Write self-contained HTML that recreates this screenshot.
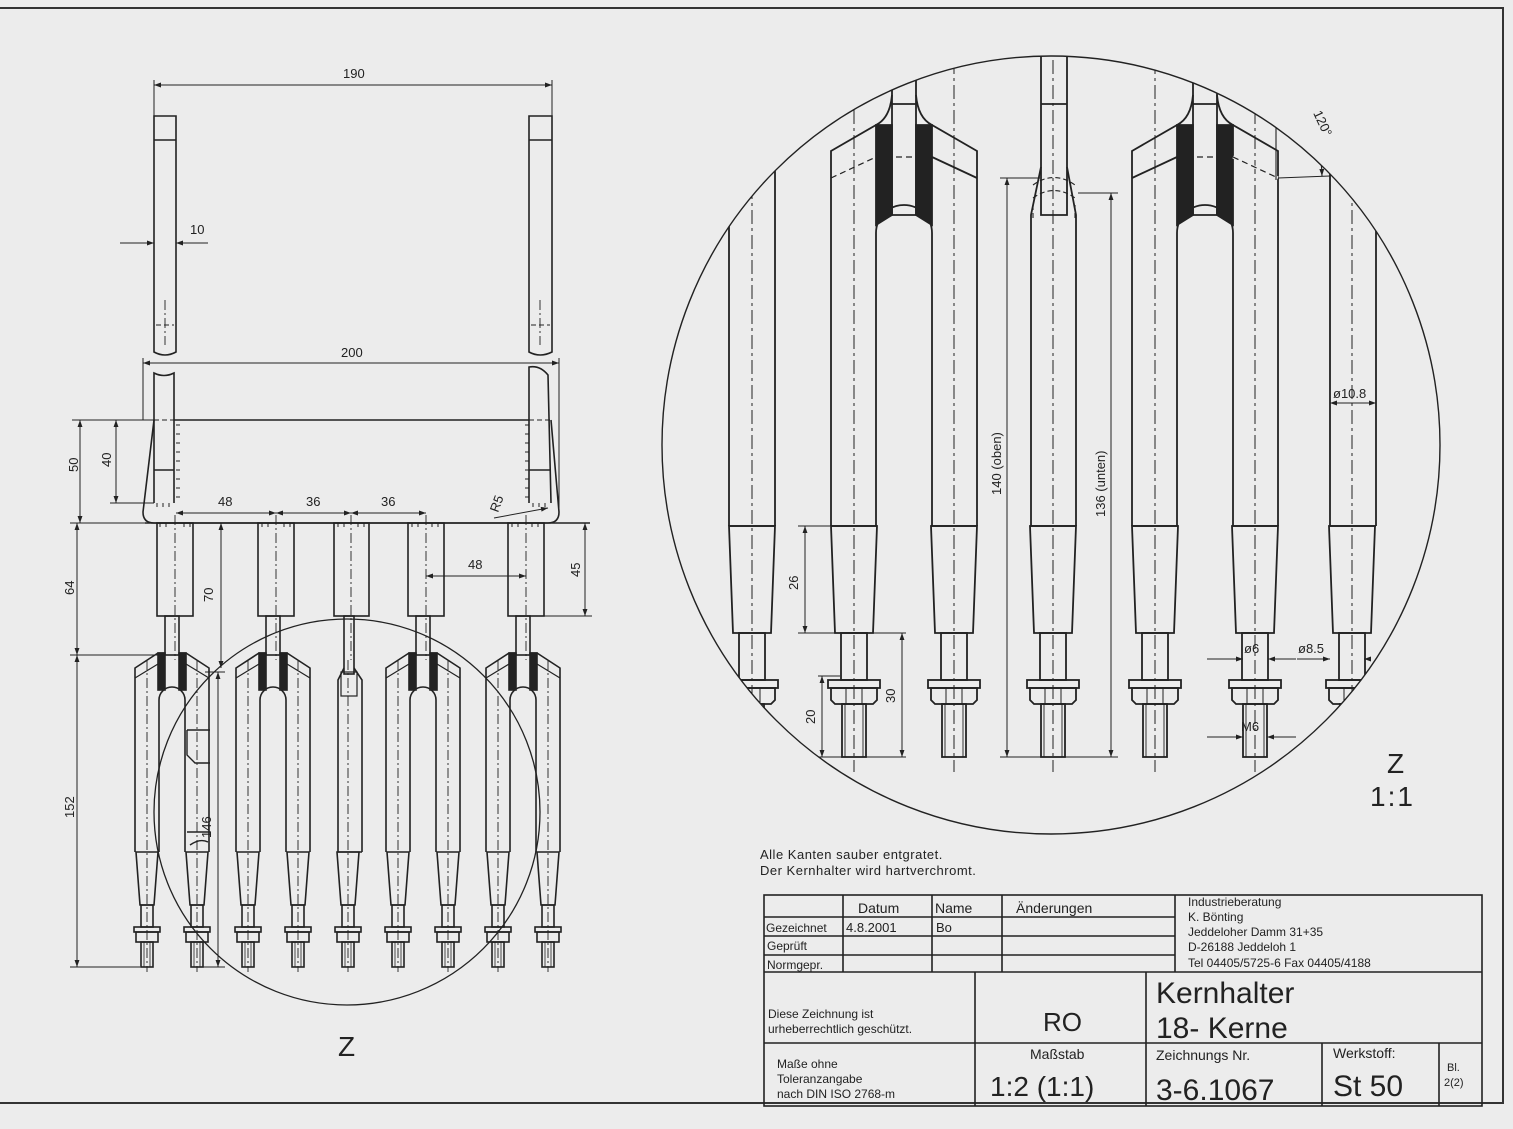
<!DOCTYPE html>
<html><head><meta charset="utf-8"><style>
html,body{margin:0;padding:0;background:#ececec}
svg{display:block}
text{font-family:"Liberation Sans",sans-serif;fill:#222}
</style></head><body>
<svg width="1513" height="1129" viewBox="0 0 1513 1129" xmlns="http://www.w3.org/2000/svg">
<defs>
<marker id="a" viewBox="0 0 10 10" refX="10" refY="5" markerWidth="9" markerHeight="7" orient="auto-start-reverse" markerUnits="userSpaceOnUse"><path d="M0,1.5 L10,5 L0,8.5z" fill="#222"/></marker>
<clipPath id="bc"><circle cx="1051" cy="445" r="389"/></clipPath>
<!-- small tine (left view), centered at 0 -->
<g id="st" fill="none" stroke="#222" stroke-width="1.6">
<path d="M-11,852 L11,852 L7,905 L-7,905 Z"/>
<rect x="-6" y="905" width="12" height="22"/>
<rect x="-13" y="927" width="26" height="5"/>
<rect x="-11" y="932" width="22" height="10"/>
<rect x="-6" y="942" width="12" height="25"/>
<line x1="-3" y1="942" x2="-3" y2="967" stroke-width="0.8"/><line x1="3" y1="942" x2="3" y2="967" stroke-width="0.8"/>
<line x1="0" y1="660" x2="0" y2="972" stroke-width="0.9" stroke-dasharray="10 3 2 3"/>
</g>
<!-- small fork, center 0 -->
<g id="sf" fill="none" stroke="#222" stroke-width="1.6">
<rect x="-7" y="616" width="14" height="39"/>
<path d="M-37,852 L-37,668 L-14,653 L-7,653 M37,852 L37,668 L14,653 L7,653"/>
<path d="M-37,678 L-14,664 M37,678 L14,664" stroke-width="1.2"/>
<path d="M-13,852 L-13,700 A13,13 0 0 1 13,700 L13,852"/>
<rect x="-14" y="653" width="7" height="37" fill="#222"/>
<rect x="7" y="653" width="7" height="37" fill="#222"/>
<use href="#st" x="-25"/><use href="#st" x="25"/>
</g>
<!-- big tine (detail), centered at 0 -->
<g id="bt" fill="none" stroke="#222" stroke-width="1.8">
<path d="M-23,526 L23,526 L19,633 L-19,633 Z"/>
<rect x="-13" y="633" width="26" height="47"/>
<rect x="-26" y="680" width="52" height="8"/>
<path d="M-23,688 L23,688 L23,700 L19,704 L-19,704 L-23,700 Z"/>
<line x1="-8" y1="688" x2="-8" y2="704" stroke-width="1"/><line x1="8" y1="688" x2="8" y2="704" stroke-width="1"/>
<rect x="-12" y="704" width="24" height="53"/>
<line x1="-9" y1="704" x2="-9" y2="757" stroke-width="0.9"/><line x1="9" y1="704" x2="9" y2="757" stroke-width="0.9"/>
<line x1="0" y1="60" x2="0" y2="772" stroke-width="1" stroke-dasharray="14 4 3 4"/>
</g>
<!-- big fork, center 0 -->
<g id="bf" fill="none" stroke="#222" stroke-width="1.8">
<path d="M-12,0 L-12,215 M12,0 L12,215 M-12,104 L12,104 M-12,215 L12,215"/>
<path d="M-73,526 L-73,151 L-28,125 Q-14,118 -12,95 M73,526 L73,151 L28,125 Q14,118 12,95"/>
<path d="M-28,526 L-28,233 A28,28 0 0 1 28,233 L28,526"/>
<path d="M-28,125 L-12,125 L-12,215 L-28,225 Z M28,125 L12,125 L12,215 L28,225 Z" fill="#222"/>
<line x1="-73" y1="178" x2="-28" y2="157" stroke-width="1.2" stroke-dasharray="6 4"/>
<line x1="28" y1="157" x2="73" y2="178" stroke-width="1.8"/>
<line x1="-28" y1="157" x2="28" y2="157" stroke-width="1.2" stroke-dasharray="6 4"/>
<path d="M-73,526 L-27,526 M27,526 L73,526"/>
<line x1="-50" y1="60" x2="-50" y2="772" stroke-width="1" stroke-dasharray="14 4 3 4"/>
<line x1="50" y1="60" x2="50" y2="772" stroke-width="1" stroke-dasharray="14 4 3 4"/>
<path d="M-73,526 L-73,526"/>
</g>
</defs>

<!-- frame -->
<path d="M-2,8 L1503,8 L1503,1103 L-2,1103" fill="none" stroke="#333" stroke-width="2"/>

<g fill="none" stroke="#222" stroke-width="1.6">
<!-- upper bars -->
<path d="M154,116 L176,116 L176,352 Q165,358 154,352 Z M154,140 L176,140"/>
<path d="M529,116 L552,116 L552,352 Q540,358 529,352 Z M529,140 L552,140"/>
<line x1="156" y1="325" x2="174" y2="325" stroke-dasharray="5 3" stroke-width="1"/>
<line x1="531" y1="325" x2="550" y2="325" stroke-dasharray="5 3" stroke-width="1"/>
<!-- lower bar segments -->
<path d="M154,503 L154,373 Q164,378 174,373 L174,503"/>
<path d="M529,503 L529,367 Q540,365 548,375 L551,503"/>
<line x1="174" y1="420" x2="529" y2="420"/>
<line x1="154" y1="420" x2="174" y2="420" stroke-dasharray="5 3" stroke-width="1"/>
<line x1="529" y1="420" x2="551" y2="420" stroke-dasharray="5 3" stroke-width="1"/>
<path d="M154,470 L174,470 M529,470 L551,470"/>
<path d="M154,420 L143,512 Q143,523 154,523 L548,523 Q559,523 559,512 L551,420"/>
<line x1="145" y1="523" x2="590" y2="523" stroke-width="1.4"/>
<!-- weld ticks -->
<path d="M176,425 h4 M176,434 h4 M176,443 h4 M176,452 h4 M176,461 h4 M176,470 h4 M176,479 h4 M176,488 h4 M176,497 h4 M525,425 h4 M525,434 h4 M525,443 h4 M525,452 h4 M525,461 h4 M525,470 h4 M525,479 h4 M525,488 h4 M525,497 h4" stroke-width="1"/>
<path d="M157,503 v4 M163,503 v4 M169,503 v4 M533,503 v4 M539,503 v4 M545,503 v4 M160,523 v4 M166,523 v4 M184,523 v4 M190,523 v4 M262,523 v4 M268,523 v4 M284,523 v4 M290,523 v4 M338,523 v4 M344,523 v4 M358,523 v4 M364,523 v4 M412,523 v4 M418,523 v4 M432,523 v4 M438,523 v4 M512,523 v4 M518,523 v4 M532,523 v4 M538,523 v4" stroke-width="1"/>
<!-- upper blocks -->
<rect x="157" y="523" width="36" height="93"/>
<rect x="258" y="523" width="36" height="93"/>
<rect x="334" y="523" width="35" height="93"/>
<rect x="408" y="523" width="36" height="93"/>
<rect x="508" y="523" width="36" height="93"/>
</g>
<g stroke="#222" stroke-width="0.9" stroke-dasharray="10 3 2 3">
<line x1="175" y1="515" x2="175" y2="660"/><line x1="276" y1="515" x2="276" y2="660"/><line x1="351" y1="515" x2="351" y2="660"/><line x1="426" y1="515" x2="426" y2="660"/><line x1="526" y1="515" x2="526" y2="660"/>
<line x1="165" y1="300" x2="165" y2="345"/><line x1="540" y1="300" x2="540" y2="345"/>
</g>
<!-- forks left -->
<use href="#sf" x="172"/><use href="#sf" x="273"/><use href="#sf" x="423"/><use href="#sf" x="523"/>
<!-- center pin left -->
<g fill="none" stroke="#222" stroke-width="1.6">
<rect x="344" y="616" width="10" height="58"/>
<path d="M338,852 L338,680 L344,668 M362,852 L362,680 L354,668"/>
<rect x="341" y="672" width="16" height="24" stroke-width="1.2"/>
<line x1="338" y1="852" x2="362" y2="852"/>
</g>
<use href="#st" x="348"/>
<!-- 146 break pin marks -->
<path d="M187,730 L210,730 M187,730 L187,755 L195,763 L210,763 M187,832 L210,832 M190,845 Q200,838 208,842" fill="none" stroke="#222" stroke-width="1.4"/>

<!-- small circle -->
<circle cx="347" cy="812" r="193" fill="none" stroke="#222" stroke-width="1.3"/>
<text x="338" y="1056" font-size="28">Z</text>

<!-- left dimensions -->
<g fill="none" stroke="#222" stroke-width="1">
<line x1="154" y1="80" x2="154" y2="116"/><line x1="552" y1="80" x2="552" y2="116"/>
<line x1="154" y1="85" x2="552" y2="85" marker-start="url(#a)" marker-end="url(#a)"/>
<line x1="120" y1="243" x2="154" y2="243" marker-end="url(#a)"/><line x1="208" y1="243" x2="176" y2="243" marker-end="url(#a)"/>
<line x1="143" y1="358" x2="143" y2="420"/><line x1="559" y1="358" x2="559" y2="512"/>
<line x1="143" y1="363" x2="559" y2="363" marker-start="url(#a)" marker-end="url(#a)"/>
<line x1="72" y1="420" x2="154" y2="420"/><line x1="110" y1="503" x2="154" y2="503"/>
<line x1="80" y1="420" x2="80" y2="523" marker-start="url(#a)" marker-end="url(#a)"/>
<line x1="116" y1="420" x2="116" y2="503" marker-start="url(#a)" marker-end="url(#a)"/>
<line x1="176" y1="513" x2="276" y2="513" marker-start="url(#a)" marker-end="url(#a)"/>
<line x1="276" y1="513" x2="351" y2="513" marker-start="url(#a)" marker-end="url(#a)"/>
<line x1="351" y1="513" x2="426" y2="513" marker-start="url(#a)" marker-end="url(#a)"/>
<line x1="426" y1="576" x2="526" y2="576" marker-start="url(#a)" marker-end="url(#a)"/>
<line x1="544" y1="616" x2="592" y2="616"/>
<line x1="585" y1="523" x2="585" y2="616" marker-start="url(#a)" marker-end="url(#a)"/>
<line x1="221" y1="523" x2="221" y2="668" marker-start="url(#a)" marker-end="url(#a)"/>
<line x1="70" y1="523" x2="155" y2="523"/>
<line x1="70" y1="655" x2="160" y2="655"/>
<line x1="77" y1="523" x2="77" y2="655" marker-start="url(#a)" marker-end="url(#a)"/>
<line x1="77" y1="655" x2="77" y2="967" marker-start="url(#a)" marker-end="url(#a)"/>
<line x1="70" y1="967" x2="140" y2="967"/>
<line x1="200" y1="967" x2="225" y2="967"/><line x1="205" y1="672" x2="225" y2="672"/>
<line x1="218" y1="672" x2="218" y2="967" marker-start="url(#a)" marker-end="url(#a)"/>
<line x1="494" y1="518" x2="548" y2="508" marker-end="url(#a)"/>
</g>
<g font-size="13">
<text x="343" y="78">190</text>
<text x="190" y="234">10</text>
<text x="341" y="357">200</text>
<text x="218" y="506">48</text><text x="306" y="506">36</text><text x="381" y="506">36</text>
<text x="468" y="569">48</text>
<text transform="translate(78,472) rotate(-90)">50</text>
<text transform="translate(111,467) rotate(-90)">40</text>
<text transform="translate(74,595) rotate(-90)">64</text>
<text transform="translate(213,602) rotate(-90)">70</text>
<text transform="translate(580,577) rotate(-90)">45</text>
<text transform="translate(74,818) rotate(-90)">152</text>
<text transform="translate(211,838) rotate(-90)">146</text>
<text transform="translate(498,513) rotate(-70)">R5</text>
</g>

<!-- big circle detail -->
<g clip-path="url(#bc)">
<g fill="none" stroke="#222" stroke-width="1.8">
<line x1="729" y1="0" x2="729" y2="526"/><line x1="775" y1="0" x2="775" y2="526"/>
<line x1="1330" y1="0" x2="1330" y2="526"/><line x1="1376" y1="0" x2="1376" y2="526"/>
<line x1="729" y1="526" x2="775" y2="526"/><line x1="1330" y1="526" x2="1376" y2="526"/>
</g>
<use href="#bt" x="752"/><use href="#bt" x="1352"/>
<use href="#bf" x="904"/><use href="#bf" x="1205"/>
<use href="#bt" x="854"/><use href="#bt" x="954"/><use href="#bt" x="1155"/><use href="#bt" x="1255"/>
<!-- fork2 mirror of chamfer style: redraw solid left, dashed right overlays -->
<line x1="1132" y1="178" x2="1177" y2="157" stroke="#222" stroke-width="1.8"/>
<line x1="1233" y1="157" x2="1278" y2="178" stroke="#ececec" stroke-width="3"/>
<line x1="1233" y1="157" x2="1278" y2="178" stroke="#222" stroke-width="1.2" stroke-dasharray="6 4"/>
<!-- center pin -->
<g fill="none" stroke="#222" stroke-width="1.8">
<path d="M1041,0 L1041,215 L1067,215 L1067,0 M1041,104 L1067,104"/>
<path d="M1041,167 L1031,215 L1031,526 M1067,167 L1076,215 L1076,526 M1031,526 L1076,526"/>
<path d="M1033,185 Q1054,170 1075,185 M1033,198 Q1054,183 1075,198 M1033,205 L1033,220 M1075,205 L1075,220" stroke-width="1.1" stroke-dasharray="5 3"/>
</g>
<use href="#bt" x="1053"/>
<!-- 120 deg -->
<g fill="none" stroke="#222" stroke-width="1.1">
<line x1="1276" y1="104" x2="1276" y2="180"/>
<line x1="1278" y1="178" x2="1330" y2="176"/>
<path d="M1277,107 Q1320,110 1322,176" marker-start="url(#a)" marker-end="url(#a)"/>
</g>
</g>
<circle cx="1051" cy="445" r="389" fill="none" stroke="#222" stroke-width="1.4"/>
<!-- detail dims -->
<g fill="none" stroke="#222" stroke-width="1">
<line x1="1000" y1="178" x2="1040" y2="178"/>
<line x1="1007" y1="178" x2="1007" y2="757" marker-start="url(#a)" marker-end="url(#a)"/>
<line x1="1078" y1="193" x2="1118" y2="193"/>
<line x1="1111" y1="193" x2="1111" y2="757" marker-start="url(#a)" marker-end="url(#a)"/>
<line x1="1000" y1="757" x2="1118" y2="757"/>
<line x1="798" y1="526" x2="830" y2="526"/><line x1="798" y1="633" x2="906" y2="633"/>
<line x1="805" y1="526" x2="805" y2="633" marker-start="url(#a)" marker-end="url(#a)"/>
<line x1="818" y1="676" x2="840" y2="676"/><line x1="818" y1="757" x2="906" y2="757"/>
<line x1="822" y1="676" x2="822" y2="757" marker-start="url(#a)" marker-end="url(#a)"/>
<line x1="902" y1="633" x2="902" y2="757" marker-start="url(#a)" marker-end="url(#a)"/>
<line x1="1207" y1="659" x2="1243" y2="659" marker-end="url(#a)"/><line x1="1296" y1="659" x2="1268" y2="659" marker-end="url(#a)"/>
<line x1="1297" y1="659" x2="1330" y2="659" marker-end="url(#a)"/><line x1="1368" y1="659" x2="1364" y2="659" marker-end="url(#a)"/>
<line x1="1207" y1="737" x2="1243" y2="737" marker-end="url(#a)"/><line x1="1296" y1="737" x2="1267" y2="737" marker-end="url(#a)"/>
<line x1="1330" y1="403" x2="1376" y2="403" marker-start="url(#a)" marker-end="url(#a)"/>
</g>
<g font-size="13">
<text transform="translate(1001,495) rotate(-90)">140 (oben)</text>
<text transform="translate(1105,517) rotate(-90)">136 (unten)</text>
<text transform="translate(798,590) rotate(-90)">26</text>
<text transform="translate(815,724) rotate(-90)">20</text>
<text transform="translate(895,703) rotate(-90)">30</text>
<text x="1244" y="653">ø6</text>
<text x="1298" y="653">ø8.5</text>
<text x="1241" y="731">M6</text>
<text x="1333" y="398">ø10.8</text>
<text transform="translate(1313,113) rotate(65)">120°</text>
</g>
<text x="1387" y="773" font-size="28">Z</text>
<text x="1370" y="806" font-size="28" letter-spacing="2">1:1</text>

<!-- notes -->
<text x="760" y="859" font-size="13" font-family="Liberation Mono" letter-spacing="0.5">Alle Kanten sauber entgratet.</text>
<text x="760" y="875" font-size="13" font-family="Liberation Mono" letter-spacing="0.5">Der Kernhalter wird hartverchromt.</text>

<!-- title block -->
<g fill="none" stroke="#222" stroke-width="1.6">
<rect x="764" y="895" width="718" height="211"/>
<line x1="764" y1="917" x2="1175" y2="917"/><line x1="764" y1="936" x2="1175" y2="936"/><line x1="764" y1="955" x2="1175" y2="955"/>
<line x1="764" y1="972" x2="1482" y2="972"/><line x1="764" y1="1043" x2="1482" y2="1043"/>
<line x1="843" y1="895" x2="843" y2="972"/><line x1="932" y1="895" x2="932" y2="972"/><line x1="1002" y1="895" x2="1002" y2="972"/><line x1="1175" y1="895" x2="1175" y2="972"/>
<line x1="975" y1="972" x2="975" y2="1106"/><line x1="1146" y1="972" x2="1146" y2="1106"/>
<line x1="1322" y1="1043" x2="1322" y2="1106"/><line x1="1439" y1="1043" x2="1439" y2="1106"/>
</g>
<g font-size="12">
<text x="858" y="913" font-size="14">Datum</text><text x="935" y="913" font-size="14">Name</text><text x="1016" y="913" font-size="14">Änderungen</text>
<text x="766" y="932">Gezeichnet</text><text x="846" y="932" font-size="13">4.8.2001</text><text x="936" y="932" font-size="13">Bo</text>
<text x="767" y="950">Geprüft</text><text x="767" y="969">Normgepr.</text>
<text x="1188" y="906">Industrieberatung</text><text x="1188" y="921">K. Bönting</text><text x="1188" y="936">Jeddeloher Damm 31+35</text><text x="1188" y="951">D-26188 Jeddeloh 1</text><text x="1188" y="967">Tel 04405/5725-6  Fax 04405/4188</text>
<text x="768" y="1018">Diese Zeichnung ist</text><text x="768" y="1033">urheberrechtlich geschützt.</text>
<text x="777" y="1068">Maße ohne</text><text x="777" y="1083">Toleranzangabe</text><text x="777" y="1098">nach DIN ISO 2768-m</text>
<text x="1043" y="1031" font-size="26">RO</text>
<text x="1156" y="1003" font-size="30">Kernhalter</text>
<text x="1156" y="1038" font-size="30">18- Kerne</text>
<text x="1030" y="1059" font-size="14">Maßstab</text>
<text x="990" y="1096" font-size="28">1:2 (1:1)</text>
<text x="1156" y="1060" font-size="14">Zeichnungs Nr.</text>
<text x="1156" y="1100" font-size="30">3-6.1067</text>
<text x="1333" y="1058" font-size="14">Werkstoff:</text>
<text x="1333" y="1096" font-size="30">St 50</text>
<text x="1447" y="1071" font-size="11">Bl.</text><text x="1444" y="1086" font-size="11">2(2)</text>
</g>
</svg>
</body></html>
